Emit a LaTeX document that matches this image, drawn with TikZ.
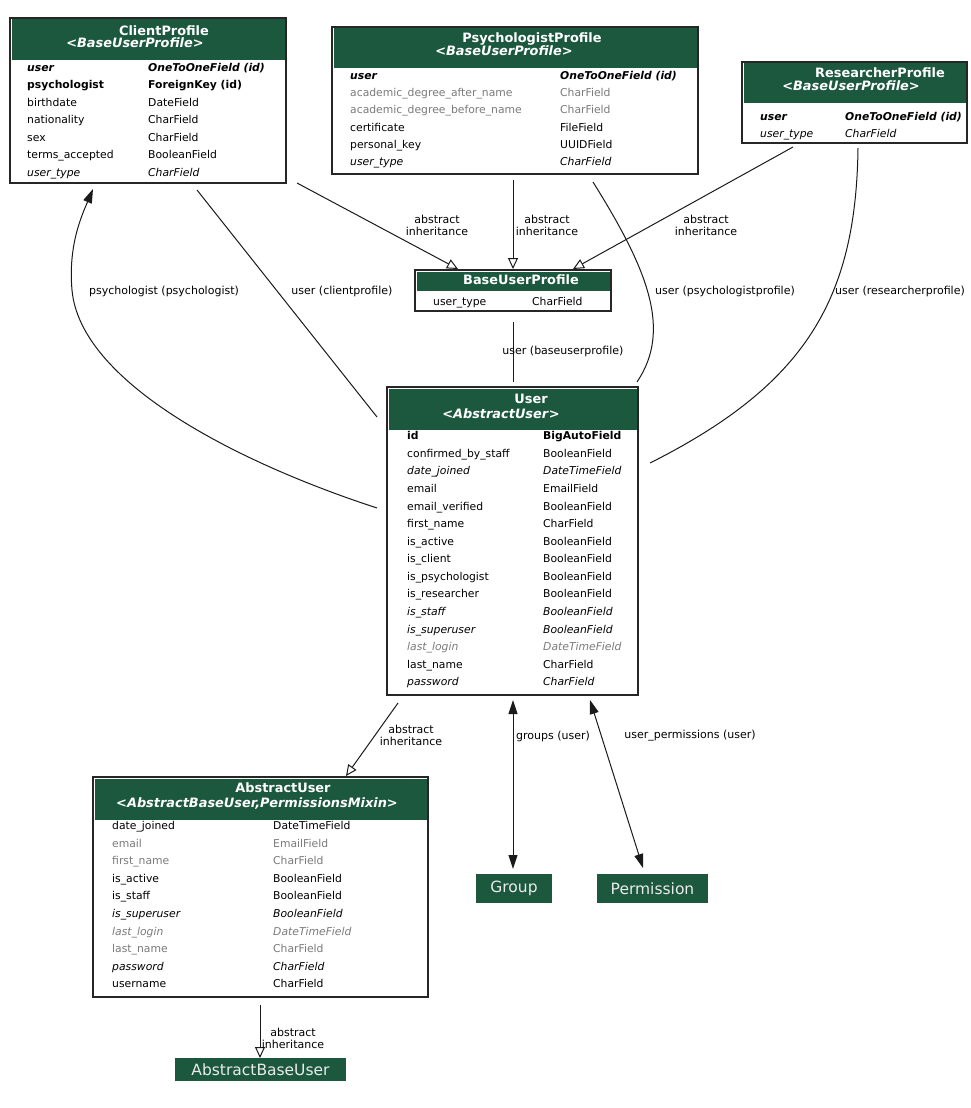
\documentclass[tikz,border=0pt]{standalone}
\usepackage{fontspec}
\setmainfont{DejaVu Sans}
\usetikzlibrary{arrows.meta}
\definecolor{hdr}{HTML}{1B583E}
\definecolor{gry}{HTML}{7B7B7B}
\definecolor{ln}{HTML}{1A1A1A}
\newcommand\fsF{\fontsize{10.8}{13}\selectfont}
\newcommand\fsH{\fontsize{12.9}{14}\selectfont\bfseries}
\newcommand\fsL{\fontsize{11}{12}\selectfont}
\newcommand\fsN{\fontsize{15.5}{17}\selectfont}
\newcommand\stN{}
\newcommand\stB{\bfseries}
\newcommand\stI{\itshape}
\newcommand\stBI{\bfseries\itshape}
\newcommand\stG{\color{gry}}
\newcommand\stGI{\color{gry}\itshape}
\tikzset{
 tbl/.style={draw=black!85, line width=1.2pt, fill=white, inner sep=0pt, outer sep=0pt},
 fld/.style={anchor=mid west, inner sep=0pt, font=\fsF},
 hd/.style={anchor=mid, inner sep=0pt, font=\fsH, text=white},
 lbl/.style={align=center, inner sep=0pt, font=\fsL},
 solo/.style={fill=hdr, text=white!92!black, font=\fsN, inner sep=0pt},
 conn/.style={draw=ln, line width=1pt},
 inh/.style={conn, -{Triangle[open, length=11pt, width=10pt]}},
 rel/.style={conn, -{Triangle[length=14pt, width=9pt]}},
 rel2/.style={conn, {Triangle[length=14pt, width=9pt]}-{Triangle[length=14pt, width=9pt]}},
}
\newcommand\tbox[6]{%
 \node[tbl, minimum width={#4-#2}, minimum height={#5-#3}] (#1) at ({(#2+#4)/2},{(#3+#5)/2}) {};
 \fill[hdr] ({#2+1.5},{#3+1.5}) rectangle ({#4-1.5},#6);
}
\newcommand\frows[6]{%
 \foreach \f/\l/\r [count=\i from 0] in {#6} {
  \node[fld] (#1l\i) at (#2,{#4+\i*#5}) {\f\l};
  \node[fld] (#1r\i) at (#3,{#4+\i*#5}) {\f\r};
 }}
\begin{document}
\begin{tikzpicture}[x=1pt,y=-1pt]
\path[use as bounding box] (0,0) rectangle (970,1108);

% ClientProfile
\tbox{client}{10}{18}{286}{183}{60}
\node[hd] (clientt1) at (164,33) {ClientProfile};
\node[hd] (clientt2) at (135,45) {<\textit{BaseUserProfile}>};
\frows{cp}{27}{148}{68.3}{17.5}{\stBI/user/OneToOneField (id), \stB/psychologist/ForeignKey (id), \stN/birthdate/DateField, \stN/nationality/CharField, \stN/sex/CharField, \stN/terms\_accepted/BooleanField, \stI/user\_type/CharField}

% PsychologistProfile
\tbox{psych}{332}{27}{698}{174}{68}
\node[hd] (psycht1) at (532,40) {PsychologistProfile};
\node[hd] (psycht2) at (504,53) {<\textit{BaseUserProfile}>};
\frows{pp}{350}{560}{76.7}{17.2}{\stBI/user/OneToOneField (id), \stG/academic\_degree\_after\_name/CharField, \stG/academic\_degree\_before\_name/CharField, \stN/certificate/FileField, \stN/personal\_key/UUIDField, \stI/user\_type/CharField}

% ResearcherProfile
\tbox{res}{742}{62}{967}{143}{103}
\node[hd] (rest1) at (880,75) {ResearcherProfile};
\node[hd] (rest2) at (851,88) {<\textit{BaseUserProfile}>};
\frows{rp}{760}{845}{118}{17}{\stBI/user/OneToOneField (id), \stI/user\_type/CharField}

% BaseUserProfile
\tbox{base}{415}{270}{611}{311}{291}
\node[hd] (baset1) at (521,282) {BaseUserProfile};
\frows{bp}{433}{532}{303}{17}{\stN/user\_type/CharField}

% User
\tbox{user}{387}{387}{638}{695}{430}
\node[hd] (usert1) at (531,401) {User};
\node[hd] (usert2) at (501,416) {<\textit{AbstractUser}>};
\frows{us}{407}{543}{437}{17.57}{\stB/id/BigAutoField, \stN/confirmed\_by\_staff/BooleanField, \stI/date\_joined/DateTimeField, \stN/email/EmailField, \stN/email\_verified/BooleanField, \stN/first\_name/CharField, \stN/is\_active/BooleanField, \stN/is\_client/BooleanField, \stN/is\_psychologist/BooleanField, \stN/is\_researcher/BooleanField, \stI/is\_staff/BooleanField, \stI/is\_superuser/BooleanField, \stGI/last\_login/DateTimeField, \stN/last\_name/CharField, \stI/password/CharField}

% AbstractUser
\tbox{absu}{93}{777}{428}{997}{820}
\node[hd] (absut1) at (283,790) {AbstractUser};
\node[hd] (absut2) at (257,805) {<\textit{AbstractBaseUser,PermissionsMixin}>};
\frows{au}{112}{273}{827}{17.56}{\stN/date\_joined/DateTimeField, \stG/email/EmailField, \stG/first\_name/CharField, \stN/is\_active/BooleanField, \stN/is\_staff/BooleanField, \stI/is\_superuser/BooleanField, \stGI/last\_login/DateTimeField, \stG/last\_name/CharField, \stI/password/CharField, \stN/username/CharField}

% simple nodes
\node[solo, minimum width=76, minimum height=29] (group) at (514,888.5) {Group};
\node[solo, minimum width=111, minimum height=29] (perm) at (652.5,888.5) {Permission};
\node[solo, minimum width=171, minimum height=23] (abu) at (260.5,1069.5) {AbstractBaseUser};

% connector end points
\coordinate (c1a) at (297,183); \coordinate (c1b) at (458,269);
\coordinate (c2a) at (513,180); \coordinate (c2b) at (513,269);
\coordinate (c3a) at (793,147); \coordinate (c3b) at (573,269);
\coordinate (c4a) at (513,322); \coordinate (c4b) at (513,382);
\coordinate (c5a) at (197,190); \coordinate (c5b) at (377,417);
\coordinate (c6a) at (377,508); \coordinate (c6m) at (72,290); \coordinate (c6b) at (93,189);
\coordinate (c7a) at (593,182); \coordinate (c7b) at (637,382);
\coordinate (c8a) at (858,148); \coordinate (c8b) at (650,463);
\coordinate (c9a) at (398,703); \coordinate (c9b) at (346,776);
\coordinate (c10a) at (513,700); \coordinate (c10b) at (513,869);
\coordinate (c11a) at (590,700); \coordinate (c11b) at (643,868);
\coordinate (c12a) at (260,1005); \coordinate (c12b) at (260,1058);

\draw[inh] (c1a) -- (c1b);
\draw[inh] (c2a) -- (c2b);
\draw[inh] (c3a) -- (c3b);
\draw[conn] (c4a) -- (c4b);
\draw[conn] (c5a) -- (c5b);
\draw[rel] (c6a) .. controls (230,460) and (80,380) .. (c6m) .. controls (68,245) and (82,215) .. (c6b);
\draw[conn] (c7a) .. controls (648,270) and (672,330) .. (c7b);
\draw[conn] (c8a) .. controls (856,300) and (805,385) .. (c8b);
\draw[inh] (c9a) -- (c9b);
\draw[rel2] (c10a) -- (c10b);
\draw[rel2] (c11a) -- (c11b);
\draw[inh] (c12a) -- (c12b);

% connector labels
\node[lbl] (l1) at (437,225) {abstract\\inheritance};
\node[lbl] (l2) at (547,225) {abstract\\inheritance};
\node[lbl] (l3) at (706,225) {abstract\\inheritance};
\node[lbl] (l4) at (563,351) {user (baseuserprofile)};
\node[lbl] (l5) at (342,291) {user (clientprofile)};
\node[lbl] (l6) at (164,291) {psychologist (psychologist)};
\node[lbl] (l7) at (725,291) {user (psychologistprofile)};
\node[lbl] (l8) at (900,291) {user (researcherprofile)};
\node[lbl] (l9) at (411,735) {abstract\\inheritance};
\node[lbl] (l10) at (553,736) {groups (user)};
\node[lbl] (l11) at (690,736) {user\_permissions (user)};
\node[lbl] (l12) at (293,1038) {abstract\\inheritance};
\end{tikzpicture}
\end{document}
